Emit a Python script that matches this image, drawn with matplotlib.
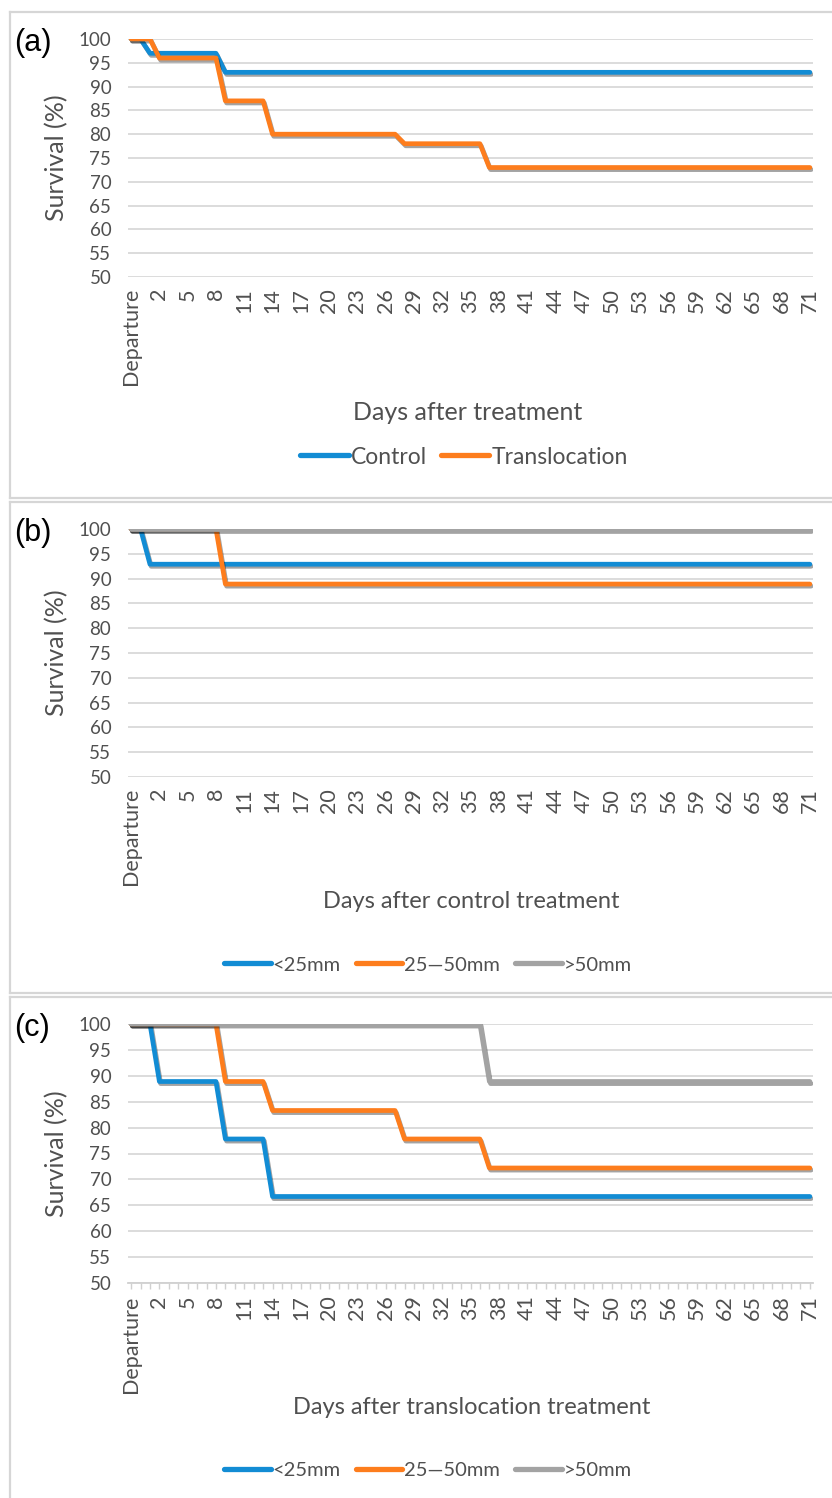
import numpy as np
import matplotlib
matplotlib.use('Agg')
import matplotlib.pyplot as plt
import matplotlib.patheffects as pe
from matplotlib.lines import Line2D

W, H = 832, 1498

# categories: Departure, then day 0 .. 71
days = ['Departure'] + [str(d) for d in range(72)]

# (a) all fish
control = [100]*2 + [97]*8 + [93]*63
translocation = [100]*3 + [96]*7 + [87]*5 + [80]*14 + [78]*9 + [73]*35

# (b) control treatment by size class
b_small = [100]*2 + [92.9]*71
b_mid = [100]*10 + [88.9]*63
b_large = [100]*73

# (c) translocation treatment by size class
c_small = [100]*3 + [88.9]*7 + [77.8]*5 + [66.7]*58
c_mid = [100]*10 + [88.9]*5 + [83.3]*14 + [77.8]*9 + [72.2]*35
c_large = [100]*38 + [88.9]*35

size_names = ['<25mm', '25\u201450mm', '>50mm']
yticks = list(range(50, 101, 5))

BLUE, ORANGE, GREY = '#128cd4', '#fd7d1d', '#a3a3a3'
TXT = '#505050'
FONT = 'Lato'

fig = plt.figure(figsize=(W/100, H/100), dpi=100)


def fx(x):
    return x / W


def fy(y):
    return 1 - y / H


def border(top, bottom):
    kw = dict(color='#d6d6d6', lw=1.6, transform=fig.transFigure)
    fig.add_artist(Line2D([fx(10), fx(10)], [fy(top), fy(bottom)], **kw))
    fig.add_artist(Line2D([fx(10), 1.0], [fy(top), fy(top)], **kw))
    fig.add_artist(Line2D([fx(10), 1.0], [fy(bottom), fy(bottom)], **kw))


def panel(top, bottom, series, colors, names, tag, xlabel, xlab, leg, box, ticks=False):
    border(*box)
    ax = fig.add_axes([fx(128), fy(bottom), fx(813) - fx(128), (bottom - top) / H])
    x = np.arange(len(days))
    shadow = [pe.SimpleLineShadow(offset=(0.9, -1.5), shadow_color='k', alpha=0.36),
              pe.Normal()]
    for vals, c in zip(series, colors):
        ax.plot(x, vals, color=c, lw=3.4, solid_capstyle='round',
                solid_joinstyle='round', path_effects=shadow, zorder=3)
    ax.set_ylim(50, 100)
    ax.set_xlim(-0.33, 72.33)
    ax.set_yticks(yticks)
    ax.set_yticklabels([str(v) for v in yticks], fontsize=13.5, color=TXT, family=FONT)
    ax.yaxis.grid(True, color='#d9d9d9', lw=1.3)
    ax.set_axisbelow(True)
    ax.set_xticks(x[::3])
    ax.set_xticklabels(days[::3], rotation=90, fontsize=15.5, color=TXT, family=FONT)
    for s in ax.spines.values():
        s.set_visible(False)
    ax.tick_params(axis='y', length=0, pad=12)
    if ticks:
        ax.spines['bottom'].set_visible(True)
        ax.spines['bottom'].set_color('#d0d0d0')
        ax.spines['bottom'].set_linewidth(1.3)
        ax.set_xticks(x, minor=True)
        ax.tick_params(axis='x', which='both', length=4, color='#d0d0d0', width=1, pad=5)
    else:
        ax.tick_params(axis='x', length=0, pad=8)
    fig.text(fx(14), fy(top + 4), tag, fontsize=22, family='Liberation Sans',
             ha='left', va='center', color='k')
    fig.text(fx(57), fy((top + bottom) / 2), 'Survival (%)', rotation=90, fontsize=18,
             family=FONT, color=TXT, ha='center', va='center')
    fig.text(fx(xlab[0]), fy(xlab[1]), xlabel, fontsize=xlab[2], family=FONT, color=TXT,
             ha='center', va='center')
    handles = [Line2D([], [], color=c, lw=3.8, solid_capstyle='round') for c in colors]
    fig.legend(handles, names, loc='center', bbox_to_anchor=(fx(leg[0]), fy(leg[1])),
               ncol=len(names), frameon=False, handlelength=leg[3], handletextpad=0.1,
               columnspacing=leg[4], prop={'family': FONT, 'size': leg[2]},
               labelcolor=TXT)
    return ax


panel(39, 277, [control, translocation], [BLUE, ORANGE], ['Control', 'Translocation'],
      '(a)', 'Days after treatment', (468, 413, 18), (464, 457, 16.5, 2.1, 0.6), (12, 498))
panel(529, 777, [b_small, b_mid, b_large], [BLUE, ORANGE, GREY], size_names,
      '(b)', 'Days after control treatment', (471, 901, 17), (428, 965, 14.5, 2.3, 0.75),
      (502, 993))
panel(1024, 1283, [c_small, c_mid, c_large], [BLUE, ORANGE, GREY], size_names,
      '(c)', 'Days after translocation treatment', (472, 1407, 17), (428, 1470, 14.5, 2.3, 0.75),
      (997, 1510), ticks=True)

fig.savefig('out.png', dpi=100)
